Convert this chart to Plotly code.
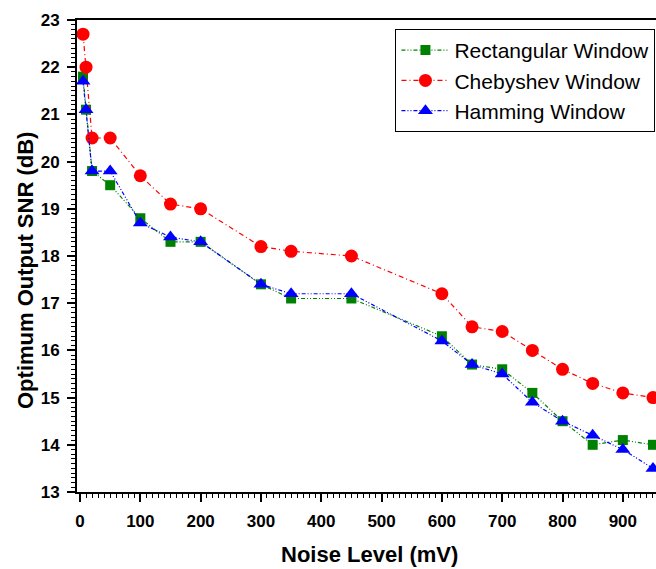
import plotly.graph_objects as go

noise_mv = [5, 10, 20, 50, 100, 150, 200, 300, 350, 450, 600, 650, 700, 750, 800, 850, 900, 950]
rectangular = [21.8, 21.1, 19.8, 19.5, 18.8, 18.3, 18.3, 17.4, 17.1, 17.1, 16.3, 15.7, 15.6, 15.1, 14.5, 14.0, 14.1, 14.0]
chebyshev = [22.7, 22.0, 20.5, 20.5, 19.7, 19.1, 19.0, 18.2, 18.1, 18.0, 17.2, 16.5, 16.4, 16.0, 15.6, 15.3, 15.1, 15.0]
hamming = [21.7, 21.1, 19.8, 19.8, 18.7, 18.4, 18.3, 17.4, 17.2, 17.2, 16.2, 15.7, 15.5, 14.9, 14.5, 14.2, 13.9, 13.5]

x_ticks = [0, 100, 200, 300, 400, 500, 600, 700, 800, 900]
y_ticks = [13, 14, 15, 16, 17, 18, 19, 20, 21, 22, 23]

x_title = "Noise Level (mV)"
y_title = "Optimum Output SNR (dB)"

FONT = "Liberation Sans"

fig = go.Figure()
fig.add_trace(go.Scatter(
    x=noise_mv, y=rectangular, name="Rectangular Window", mode="lines+markers",
    line=dict(color="#008000", width=1.2, dash="4px,2px,1px,2px,1px,2px"),
    marker=dict(symbol="square", size=10, color="#008000")))
fig.add_trace(go.Scatter(
    x=noise_mv, y=chebyshev, name="Chebyshev Window", mode="lines+markers",
    line=dict(color="#FF0000", width=1.2, dash="5px,3px,1px,3px"),
    marker=dict(symbol="circle", size=13, color="#FF0000")))
fig.add_trace(go.Scatter(
    x=noise_mv, y=hamming, name="Hamming Window", mode="lines+markers",
    line=dict(color="#0000FF", width=1.2, dash="4px,2px,1px,2px,1px,2px"),
    marker=dict(symbol="triangle-up", size=13, color="#0000FF")))

fig.update_layout(
    width=656, height=569,
    margin=dict(l=77, r=0, t=20, b=77),
    paper_bgcolor="white", plot_bgcolor="white",
    font=dict(family=FONT, color="black"),
    showlegend=True,
    legend=dict(
        x=0.550, y=0.981, xanchor="left", yanchor="top",
        bgcolor="white", bordercolor="black", borderwidth=1,
        font=dict(family=FONT, size=21, color="black"),
        tracegroupgap=0, itemsizing="trace", itemwidth=48,
    ),
    xaxis=dict(
        range=[-5, 955], tickmode="array", tickvals=x_ticks,
        ticktext=[str(v) for v in x_ticks],
        showgrid=False, zeroline=False,
        showline=True, linecolor="black", linewidth=2, mirror=True,
        ticks="outside", ticklen=8, tickwidth=2, tickcolor="black",
        minor=dict(ticks="outside", dtick=10, ticklen=4, tickwidth=1, tickcolor="black", showgrid=False),
        tickfont=dict(family=FONT, size=17, color="black", weight="bold"),
        ticklabelstandoff=5,
    ),
    yaxis=dict(
        range=[13, 23], tickmode="array", tickvals=y_ticks,
        ticktext=[str(v) for v in y_ticks],
        showgrid=False, zeroline=False,
        showline=True, linecolor="black", linewidth=2, mirror=False,
        ticks="outside", ticklen=8, tickwidth=2, tickcolor="black",
        minor=dict(ticks="outside", dtick=0.1, ticklen=4, tickwidth=1, tickcolor="black", showgrid=False),
        tickfont=dict(family=FONT, size=17, color="black", weight="bold"),
        ticklabelstandoff=4,
    ),
    annotations=[
        dict(text="<b>" + x_title + "</b>", xref="paper", yref="paper",
             x=(370 - 77) / 579, y=(492 - 554) / 472, xanchor="center", yanchor="middle",
             showarrow=False, font=dict(family=FONT, size=22, color="black")),
        dict(text="<b>" + y_title + "</b>", xref="paper", yref="paper",
             x=(25 - 77) / 579, y=(492 - 271) / 472, xanchor="center", yanchor="middle",
             textangle=-90, showarrow=False, font=dict(family=FONT, size=22, color="black")),
    ],
)

fig.write_html("out.html")
